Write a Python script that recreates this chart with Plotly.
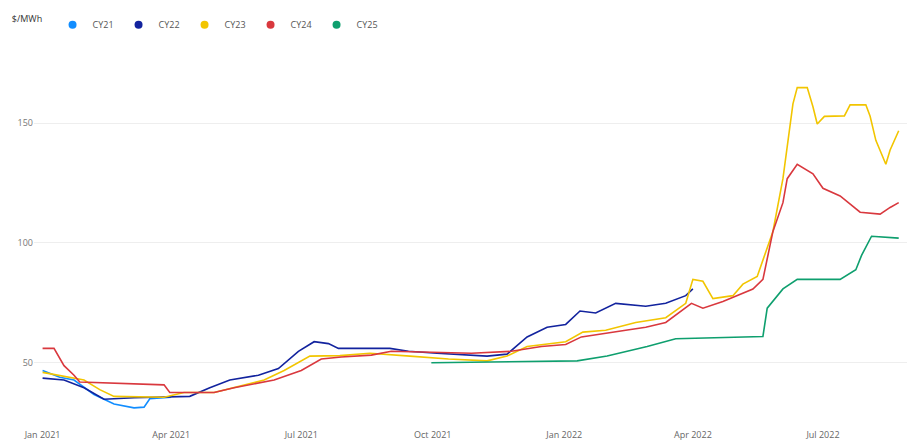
import plotly.graph_objects as go

cy21_d = ["2021-01-01","2021-01-13","2021-01-23","2021-02-06","2021-02-20","2021-03-06","2021-03-13","2021-03-17","2021-04-01"]
cy21_v = [46.8,44,42.8,36.8,32.8,31.2,31.5,35,35.6]

cy22_d = ["2021-01-01","2021-01-16","2021-01-30","2021-02-13","2021-03-06","2021-04-14","2021-04-28","2021-05-12","2021-06-01","2021-06-15","2021-06-29","2021-07-10","2021-07-20","2021-07-27","2021-09-01","2021-09-14","2021-10-04","2021-11-08","2021-11-22","2021-12-06","2021-12-20","2022-01-02","2022-01-12","2022-01-23","2022-02-06","2022-02-27","2022-03-13","2022-03-27","2022-04-01"]
cy22_v = [43.6,42.8,39.6,34.8,35.4,36,39.6,42.8,44.8,47.6,54.8,58.8,58,56,56,54.8,54,52.8,53.6,60.8,64.8,66,71.6,70.8,74.8,73.6,74.8,78,80.8]

cy23_d = ["2021-01-01","2021-01-16","2021-01-30","2021-02-10","2021-02-20","2021-03-27","2021-04-10","2021-05-01","2021-05-15","2021-06-05","2021-06-19","2021-07-07","2021-07-28","2021-08-18","2021-09-15","2021-10-12","2021-11-08","2021-11-22","2021-12-06","2022-01-02","2022-01-14","2022-01-30","2022-02-20","2022-03-13","2022-03-27","2022-04-01","2022-04-08","2022-04-15","2022-04-29","2022-05-06","2022-05-16","2022-05-20","2022-05-27","2022-06-03","2022-06-06","2022-06-10","2022-06-13","2022-06-20","2022-06-24","2022-06-27","2022-07-02","2022-07-16","2022-07-20","2022-07-31","2022-08-03","2022-08-07","2022-08-14","2022-08-17","2022-08-23"]
cy23_v = [46,44.4,42.8,38.8,36,35.6,37.6,37.6,39.6,42.8,46.8,52.8,53,54,52.8,51.6,50.8,52.8,56.8,58.8,62.8,63.6,66.8,68.8,74.8,84.8,84,76.8,78,82.8,86,92.8,104.8,126.8,140,158,164.8,164.8,156.8,149.6,152.8,153,157.6,157.6,152.8,142.8,132.8,138.8,146.8]

cy24_d = ["2021-01-01","2021-01-09","2021-01-16","2021-01-23","2021-01-27","2021-03-27","2021-03-31","2021-05-01","2021-05-15","2021-06-12","2021-07-01","2021-07-15","2021-07-29","2021-08-19","2021-09-02","2021-09-30","2021-10-28","2021-11-25","2021-12-16","2022-01-02","2022-01-13","2022-02-13","2022-02-27","2022-03-13","2022-03-31","2022-04-08","2022-04-22","2022-05-13","2022-05-20","2022-05-27","2022-06-03","2022-06-06","2022-06-13","2022-06-24","2022-07-01","2022-07-13","2022-07-27","2022-08-10","2022-08-17","2022-08-23"]
cy24_v = [56,56,48.8,44.8,42,40.8,37.6,37.6,39.6,42.8,46.8,51.6,52.4,53.2,54.8,54.4,54,54.8,56.8,57.6,60.8,63.6,64.8,66.8,74.8,72.8,75.6,80.8,84.8,104.8,116.8,126.8,132.8,128.8,122.8,119.6,112.8,112,114.8,116.8]

cy25_d = ["2021-09-30","2022-01-10","2022-01-31","2022-02-28","2022-03-20","2022-05-20","2022-05-23","2022-06-03","2022-06-13","2022-07-13","2022-07-24","2022-07-28","2022-08-04","2022-08-23"]
cy25_v = [50,50.8,52.8,56.8,60,61,72.8,80.8,84.8,84.8,88.8,94.8,102.8,102]

series = [("CY21", cy21_d, cy21_v, "#118DFF"),
          ("CY22", cy22_d, cy22_v, "#12239E"),
          ("CY23", cy23_d, cy23_v, "#F2C500"),
          ("CY24", cy24_d, cy24_v, "#D9383E"),
          ("CY25", cy25_d, cy25_v, "#0E9F6E")]

fig = go.Figure()
for name, d, v, c in series:
    fig.add_trace(go.Scatter(x=d, y=v, name=name, mode="lines", showlegend=False,
                             line=dict(color=c, width=1.6)))
for name, d, v, c in series:
    fig.add_trace(go.Scatter(x=[None], y=[None], name=name, mode="markers",
                             marker=dict(color=c, size=8, symbol="circle")))

fig.update_layout(
    width=915, height=445, plot_bgcolor="white", paper_bgcolor="white",
    margin=dict(l=20, r=10, t=25, b=25),
    font=dict(family="Segoe UI, Open Sans, sans-serif", size=9, color="#666"),
    legend=dict(orientation="h", x=0.002, xref="container", y=0.995, yref="container",
                xanchor="left", yanchor="top",
                title=dict(text="$/MWh ", font=dict(color="#333", size=9)),
                font=dict(size=9, color="#555"), itemwidth=30, tracegroupgap=0),
)
fig.update_xaxes(range=["2020-12-26", "2022-09-02"], showgrid=False, showline=False,
                 tickvals=["2021-01-01","2021-04-01","2021-07-01","2021-10-01","2022-01-01","2022-04-01","2022-07-01"],
                 ticktext=["Jan 2021","Apr 2021","Jul 2021","Oct 2021","Jan 2022","Apr 2022","Jul 2022"],
                 ticks="", tickfont=dict(size=9, color="#666"))
fig.update_yaxes(range=[22.8, 180.8], tickvals=[50,100,150], gridcolor="#eeeeee", zeroline=False,
                 ticks="", tickfont=dict(size=9, color="#777"))
fig.write_html("out.html")
